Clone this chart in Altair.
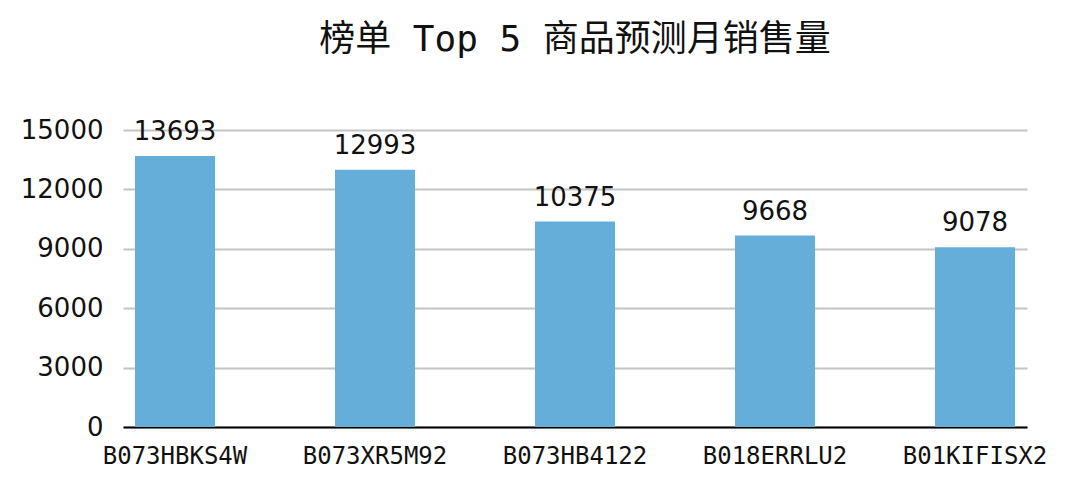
import altair as alt
import pandas as pd

products = ["B073HBKS4W", "B073XR5M92", "B073HB4122", "B018ERRLU2", "B01KIFISX2"]
sales = [13693, 12993, 10375, 9668, 9078]
y_ticks = [0, 3000, 6000, 9000, 12000, 15000]

df = pd.DataFrame({"product": products, "sales": sales})

x = alt.X("product:N", sort=products, title=None,
          scale=alt.Scale(paddingInner=0.6, paddingOuter=0.06),
          axis=alt.Axis(labelAngle=0, labelFont="DejaVu Sans Mono", labelFontSize=24,
                        labelColor="#111111", ticks=False, labelPadding=17,
                        domainColor="#000000", domainWidth=2, grid=False))
y = alt.Y("sales:Q", title=None,
          scale=alt.Scale(domain=[0, 15000], nice=False),
          axis=alt.Axis(values=y_ticks, format="d", labelFont="DejaVu Sans", labelFontSize=26,
                        labelColor="#111111", ticks=False, domain=False, labelPadding=20,
                        gridColor="#c4c4c4", gridWidth=2))

bars = alt.Chart(df).mark_bar(color="#66aeda").encode(x=x, y=y)
labels = alt.Chart(df).mark_text(font="DejaVu Sans", fontSize=26, color="#111111",
                                 baseline="alphabetic", dy=-16).encode(
    x=alt.X("product:N", sort=products), y="sales:Q", text="sales:Q")

chart = (bars + labels).properties(
    width=904, height=297,
    autosize=alt.AutoSizeParams(type="none"),
    padding={"left": 115, "top": 122, "right": 40, "bottom": 55},
    title=alt.TitleParams("榜单 Top 5 商品预测月销售量", font="DejaVu Sans Mono, Noto Sans CJK SC",
                          fontSize=36, fontWeight="normal", color="#111111",
                          anchor="middle", frame="group", offset=30, baseline="alphabetic"),
).configure_view(stroke=None)

chart.save("out.html", embed_options={"renderer": "svg", "actions": False})
